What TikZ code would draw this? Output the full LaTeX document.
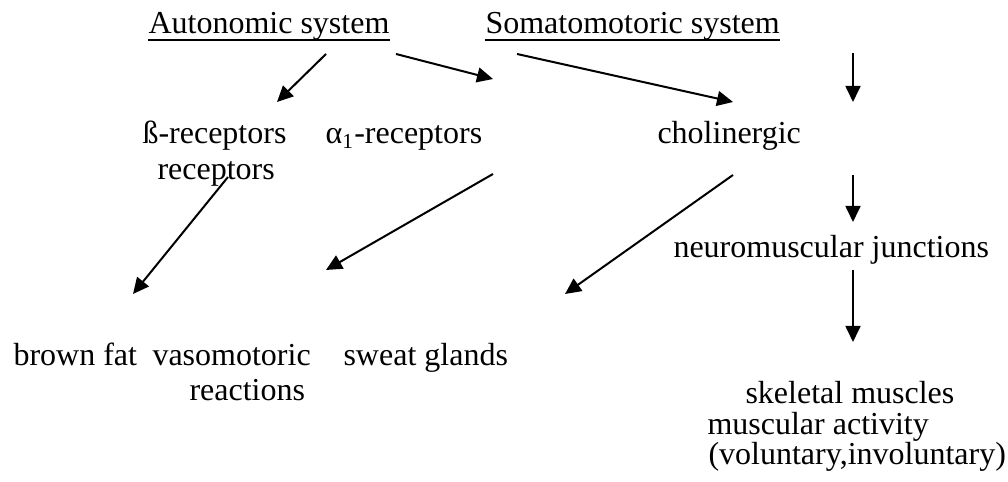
\documentclass[tikz,border=0pt]{standalone}
\usepackage{fontspec}
\setmainfont{Liberation Serif}
\usetikzlibrary{arrows.meta}

\tikzset{
  lbl/.style={anchor=base west,inner sep=0pt,font=\fontsize{12pt}{13.5pt}\selectfont},
  arr/.style={-{Triangle[length=6pt,width=5.6pt]},line width=0.75pt},
  uline/.style={line width=0.7pt}
}

\begin{document}
\begin{tikzpicture}[x=0.375pt,y=-0.375pt]
\useasboundingbox (0,0) rectangle (1008,482);
\node [lbl] (auto) at (148,34) {Autonomic system};
\node [lbl] (soma) at (485,34) {Somatomotoric system};
\node [lbl] (beta) at (142,144) {ß-receptors};
\node [lbl] (betab) at (157,180) {receptors};
\node [lbl] (alpha) at (325,144) {α\textsubscript{1}-receptors};
\node [lbl] (chol) at (657,144) {cholinergic};
\node [lbl] (neuro) at (673,258) {neuromuscular junctions};
\node [lbl] (brown) at (13,366) {brown fat};
\node [lbl] (vaso) at (152,366) {vasomotoric};
\node [lbl] (reac) at (189,401) {reactions};
\node [lbl] (sweat) at (343,366) {sweat glands};
\node [lbl] (skel) at (745,404) {skeletal muscles};
\node [lbl] (musc) at (707,435) {muscular activity};
\node [lbl] (vol) at (708,465) {(voluntary,involuntary)};

\draw [uline] ([yshift=-2.2pt]auto.base west) -- ([yshift=-2.2pt]auto.base east);
\draw [uline] ([yshift=-2.2pt]soma.base west) -- ([yshift=-2.2pt]soma.base east);

\coordinate (a1s) at (326,54);  \coordinate (a1e) at (277,102);
\coordinate (a2s) at (396,54);  \coordinate (a2e) at (493,79);
\coordinate (a3s) at (517,54);  \coordinate (a3e) at (733,102);
\coordinate (a4s) at (853,53);  \coordinate (a4e) at (853,102);
\coordinate (a5s) at (228,177); \coordinate (a5e) at (133,294);
\coordinate (a6s) at (493,174); \coordinate (a6e) at (326,270);
\coordinate (a7s) at (733,175); \coordinate (a7e) at (565,294);
\coordinate (a8s) at (853,175); \coordinate (a8e) at (853,222);
\coordinate (a9s) at (853,270); \coordinate (a9e) at (853,342);

\draw [arr] (a1s) -- (a1e);
\draw [arr] (a2s) -- (a2e);
\draw [arr] (a3s) -- (a3e);
\draw [arr] (a4s) -- (a4e);
\draw [arr] (a5s) -- (a5e);
\draw [arr] (a6s) -- (a6e);
\draw [arr] (a7s) -- (a7e);
\draw [arr] (a8s) -- (a8e);
\draw [arr] (a9s) -- (a9e);
\end{tikzpicture}
\end{document}
